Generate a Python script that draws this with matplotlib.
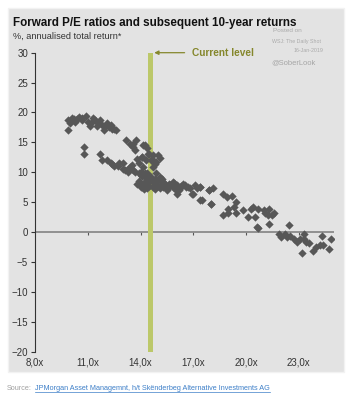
import matplotlib
matplotlib.use("Agg")
import matplotlib.pyplot as plt
from matplotlib.patches import Rectangle
from matplotlib.lines import Line2D

plt.rcParams['font.family'] = ['Liberation Sans', 'DejaVu Sans']

# forward P/E (x) and subsequent 10-year annualised return (y)
pe = [9.9, 9.9, 10.1, 10.3, 10.5, 10.65, 10.9, 11.0, 11.1, 11.4, 11.5, 11.7, 11.8, 11.9,
      12.1, 12.2, 12.4, 12.5, 10.8, 10.8, 11.7, 11.8, 12.1, 12.3, 12.5, 12.8, 13.0,
      13.2, 13.4, 13.6, 13.75, 13.7, 13.5, 13.3, 13.6, 14.0, 14.25, 14.35, 14.06, 14.5,
      14.7, 15.0, 14.6, 14.7, 13.9, 14.15, 14.35, 14.35, 14.6, 14.9, 15.1,
      14.0, 14.15, 14.35, 14.7, 14.9, 15.1, 15.5, 15.7, 16.05, 16.2, 16.5, 16.7, 17.0,
      17.2, 17.4, 17.5, 17.9, 18.1, 18.0, 18.7, 18.9, 19.2, 19.4, 19.3, 19.0, 18.7,
      19.0, 19.4, 19.8, 20.1, 20.3, 20.4, 20.5, 20.7, 20.7, 20.6, 21.0, 21.1, 21.3,
      21.3, 21.25, 21.5, 21.6, 22.45, 21.9, 22.0, 22.2, 22.3, 22.5, 22.7, 22.9, 23.05,
      23.2, 23.3, 23.3, 23.4, 23.6, 23.8, 24.0, 24.2, 24.3, 24.4, 24.7, 24.85,
      13.0, 13.4, 13.7, 14.0, 14.25, 14.5, 14.7, 15.0, 15.3, 15.6, 15.85, 16.1, 16.4,
      16.6, 16.9, 17.1, 17.4, 17.4, 17.9, 18.0, 15.85, 15.3, 14.06, 14.35, 13.8,
      14.45, 14.15, 13.6, 14.06, 14.7, 15.4, 15.2, 14.8, 16.3, 15.9,
      10.2, 10.4, 10.7, 11.2, 11.3, 12.0, 12.3, 10.0, 11.6, 12.6,
      12.4, 12.7, 13.1, 13.3, 13.9, 14.1, 14.3, 14.4, 14.8, 15.2, 15.4, 15.6, 15.9,
      16.3, 16.8, 14.2, 14.5, 14.8, 15.0, 16.0, 13.9, 14.2, 14.8, 15.1, 14.3, 13.8,
      14.9]
ret = [17.0, 18.7, 19.0, 18.4, 19.3, 18.7, 19.4, 18.4, 17.7, 18.7, 17.7, 18.7, 17.9, 17.0,
       18.2, 17.5, 17.3, 17.3, 14.2, 13.1, 13.1, 12.0, 12.0, 11.6, 11.0, 11.6, 10.6,
       15.4, 14.8, 14.2, 15.4, 13.7, 11.2, 10.0, 10.3, 10.0, 14.5, 14.0, 12.6, 13.1,
       12.8, 12.8, 12.0, 10.9, 11.5, 10.9, 9.8, 8.7, 9.2, 9.8, 9.2,
       7.5, 8.1, 7.3, 7.5, 8.1, 7.3, 7.0, 7.8, 6.4, 7.0, 7.8, 7.5, 6.4,
       7.3, 7.5, 5.3, 7.0, 7.3, 4.6, 6.4, 5.9, 6.0, 5.0, 4.2, 3.9, 2.8,
       3.1, 3.2, 3.6, 2.5, 3.9, 4.2, 2.5, 3.9, 0.6, 0.8, 3.6, 3.1, 1.4,
       3.9, 2.8, 2.8, 3.1, 1.2, -0.3, -0.9, -0.3, -0.8, -0.6, -1.1, -1.7, -1.1,
       -3.5, -0.3, -1.1, -1.7, -1.9, -3.1, -2.5, -2.2, -0.7, -2.2, -2.8, -1.1,
       11.5, 10.9, 10.0, 9.5, 9.8, 9.2, 8.4, 8.7, 8.4, 8.1, 8.4, 7.8, 8.1,
       7.5, 6.4, 7.8, 7.5, 5.3, 7.0, 4.7, 7.5, 7.5, 7.5, 7.8, 8.1,
       13.1, 14.5, 14.8, 12.6, 12.0, 8.0, 8.9, 8.3, 7.6, 8.2,
       18.9, 18.9, 19.0, 18.2, 19.0, 17.7, 17.9, 18.3, 18.2, 17.0,
       11.3, 11.0, 10.4, 10.6, 9.9, 9.4, 9.0, 8.4, 8.9, 8.0, 7.9, 7.6, 7.9,
       7.7, 7.3, 7.2, 7.7, 7.2, 7.7, 7.0, 8.6, 8.2, 11.3, 12.3, 12.0, 12.2,
       11.7]

current_pe = 14.58
xticks = [8, 11, 14, 17, 20, 23]
xlabels = ['8,0x', '11,0x', '14,0x', '17,0x', '20,0x', '23,0x']
yticks = [30, 25, 20, 15, 10, 5, 0, -5, -10, -15, -20]

panel = '#e3e3e3'
olive_bar = '#bcc86a'
olive_txt = '#85872c'

fig = plt.figure(figsize=(3.55, 4.07), dpi=100)
fig.patches.append(Rectangle((8 / 355, 1 - 372 / 407), 336 / 355, 364 / 407,
                             transform=fig.transFigure, facecolor=panel,
                             edgecolor='#f2f2f2', linewidth=1, zorder=-5))

ax = fig.add_axes([35 / 355, 55.5 / 407, 299 / 355, 298.8 / 407])
ax.set_zorder(2)
ax.set_facecolor('none')
ax.set_xlim(8, 25)
ax.set_ylim(-20, 30)

ax.bar(current_pe, 50, bottom=-20, width=0.3, color=olive_bar, zorder=2)
ax.scatter(pe, ret, marker='D', s=18, color='#575757', linewidths=0, zorder=3)
ax.axhline(0, color='#8a8a8a', linewidth=1.3, zorder=1)

for s in ['top', 'right', 'bottom']:
    ax.spines[s].set_visible(False)
ax.spines['left'].set_color('#333333')
ax.spines['left'].set_linewidth(0.8)
ax.set_yticks(yticks)
ax.tick_params(axis='y', direction='out', length=3, width=0.8, colors='#333333',
               labelsize=7, pad=2)
ax.set_xticks(xticks)
ax.set_xticklabels(xlabels)
ax.tick_params(axis='x', length=0, labelsize=7, colors='#333333', pad=4)

# tick marks on the zero line
sec = ax.secondary_xaxis(0.4)
sec.set_xticks(xticks[1:])
sec.tick_params(axis='x', direction='out', length=2.5, width=0.8, colors='#555555',
                labelbottom=False)
sec.spines['bottom'].set_visible(False)

ax.annotate('Current level', xy=(current_pe + 0.2, 30), xytext=(16.9, 30),
            color=olive_txt, fontsize=7.3, fontweight='bold', va='center', ha='left',
            annotation_clip=False,
            arrowprops=dict(arrowstyle='-|>', color=olive_txt, lw=0.9,
                            shrinkA=3, shrinkB=0, mutation_scale=6))

fig.text(13 / 355, 1 - 23 / 407, 'Forward P/E ratios and subsequent 10-year returns',
         fontsize=8.4, fontweight='bold', color='#111111', va='center')
fig.text(13 / 355, 1 - 36 / 407, '%, annualised total return*', fontsize=6.6,
         color='#333333', va='center')
fig.text(273 / 355, 1 - 31 / 407, 'Posted on', fontsize=4.6, color='#aaaaaa', va='center')
fig.text(272 / 355, 1 - 41 / 407, 'WSJ: The Daily Shot', fontsize=3.8, color='#aaaaaa', va='center')
fig.text(323 / 355, 1 - 50 / 407, '16-Jan-2019', fontsize=3.8, color='#aaaaaa',
         va='center', ha='right')
fig.text(271 / 355, 1 - 63 / 407, '@SoberLook', fontsize=5.4, color='#a5a5a5', va='center')

fig.text(7 / 355, 1 - 389 / 407, 'Source:', fontsize=5.2, color='#a0a0a0', va='center')
link = fig.text(35 / 355, 1 - 389 / 407,
                'JPMorgan Asset Managemnt, h/t Sk\u00ebnderbeg Alternative Investments AG',
                fontsize=5.2, color='#3d7fc8', va='center')
fig.canvas.draw()
bb = link.get_window_extent().transformed(fig.transFigure.inverted())
fig.lines.append(Line2D([bb.x0, bb.x1], [bb.y0 + 0.002, bb.y0 + 0.002],
                        transform=fig.transFigure, color='#3d7fc8', linewidth=0.5))

fig.savefig('out.png', dpi=100)
